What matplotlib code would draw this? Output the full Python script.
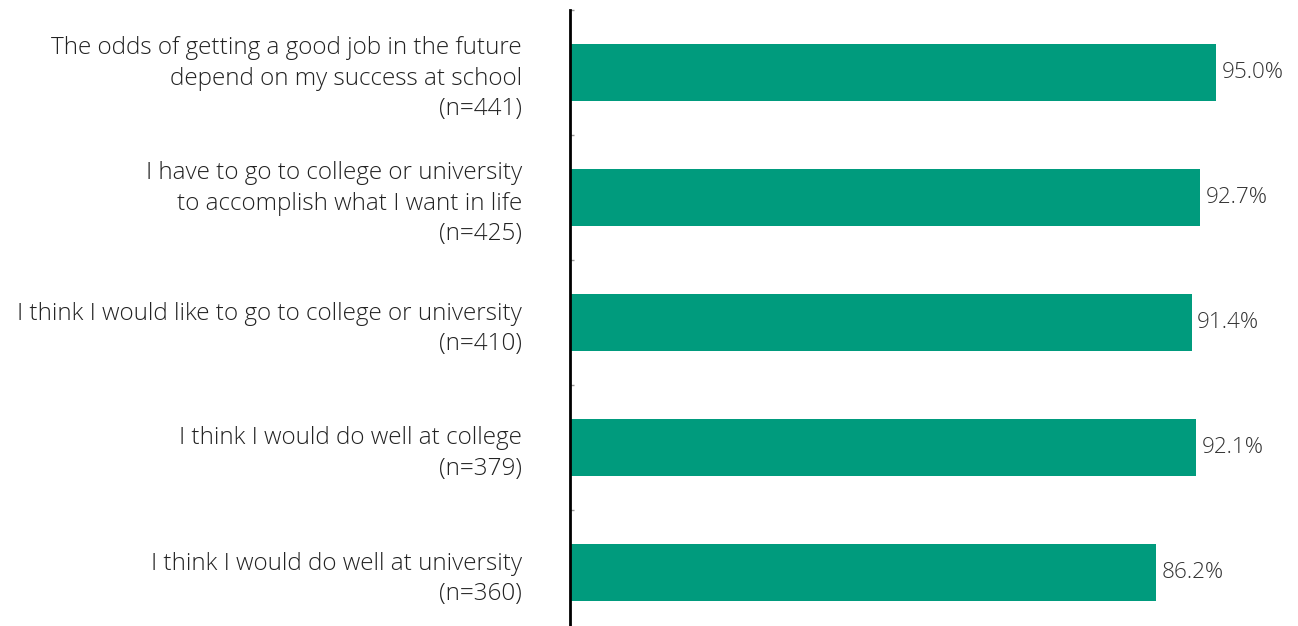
import matplotlib.pyplot as plt
import numpy as np

labels = [
    'The odds of getting a good job in the future\ndepend on my success at school\n(n=441)',
    'I have to go to college or university\nto accomplish what I want in life\n(n=425)',
    'I think I would like to go to college or university\n(n=410)',
    'I think I would do well at college\n(n=379)',
    'I think I would do well at university\n(n=360)',
]
values = [95.0, 92.7, 91.4, 92.1, 86.2]

plt.rcParams['font.family'] = ['Open Sans', 'DejaVu Sans']
plt.rcParams['font.weight'] = 'light'

fig = plt.figure(figsize=(12.98, 6.26), dpi=100)
# axes runs a little past the bottom edge
ax = fig.add_axes([570 / 1298, -9 / 626, 728 / 1298, 625 / 626])

y = np.arange(len(values))
ax.barh(y, values, height=0.46, color='#009B7D')
for yi, v in zip(y, values):
    ax.text(v + 0.8, yi, f'{v:.1f}%', va='center', ha='left',
            fontsize=16.2, color='#333333')

ax.set_ylim(len(values) - 0.5, -0.5)
ax.set_xlim(0, 728 / 6.8)
ax.set_yticks(y)
ax.set_yticklabels(labels, fontsize=17.5, color='#222222', ha='right',
                   multialignment='right', linespacing=1.34)
ax.tick_params(axis='y', which='major', length=0, pad=34.5)
ax.set_yticks(np.arange(len(values) + 1) - 0.5, minor=True)
ax.tick_params(axis='y', which='minor', direction='in', length=3,
               color='#999999', width=1)
ax.set_xticks([])
for side in ['top', 'right', 'bottom']:
    ax.spines[side].set_visible(False)
ax.spines['left'].set_linewidth(2)
ax.spines['left'].set_color('black')

fig.savefig('out.png', dpi=100)
